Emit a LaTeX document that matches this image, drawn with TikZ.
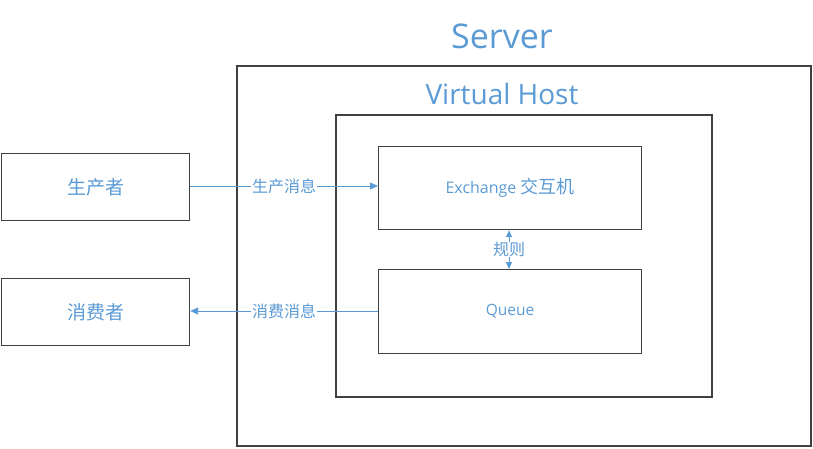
\documentclass[tikz,border=0pt]{standalone}
\usepackage{fontspec}
\setmainfont{Open Sans}
\newfontfamily\cjk{Noto Sans CJK SC}
\usetikzlibrary{arrows.meta}
\definecolor{tblue}{HTML}{5B9BD5}
\definecolor{frame}{HTML}{404040}
\begin{document}
\begin{tikzpicture}[x=1pt,y=-1pt,
  box/.style={draw=frame,line width=1.2pt},
  txt/.style={text=tblue,inner sep=0pt},
  conn/.style={draw=tblue,line width=0.8pt,-{Triangle[length=8pt,width=7pt]}},
  lbl/.style={fill=white,text=tblue,font=\cjk\fontsize{16}{16}\selectfont,inner sep=1pt}]
\useasboundingbox (0,0) rectangle (813,448);
\draw[box] (237,66) rectangle (811,446);
\draw[box] (336,115) rectangle (712,397);
\node[box,minimum width=188pt,minimum height=67pt,anchor=north west,inner sep=0pt] (prod) at (1,153) {};
\node[txt,font=\cjk\fontsize{19}{19}\selectfont] (prodtxt) at (prod.center) {生产者};
\node[box,minimum width=188pt,minimum height=67pt,anchor=north west,inner sep=0pt] (cons) at (1,278) {};
\node[txt,font=\cjk\fontsize{19}{19}\selectfont] (constxt) at (cons.center) {消费者};
\node[box,minimum width=263pt,minimum height=83pt,anchor=north west,inner sep=0pt] (ex) at (378,146) {};
\node[txt,font=\fontsize{16}{16}\selectfont] (extxt) at (ex.center) {Exchange {\cjk\fontsize{18}{18}\selectfont 交互机}};
\node[box,minimum width=263pt,minimum height=84pt,anchor=north west,inner sep=0pt] (q) at (378,269) {};
\node[txt,font=\fontsize{15.5}{15.5}\selectfont] (qtxt) at (q.center) {Queue};
\node[txt,font=\fontsize{34}{34}\selectfont] (server) at (502,36) {Server};
\node[txt,font=\fontsize{28}{28}\selectfont] (vh) at (502,94) {Virtual Host};
\draw[conn] (prod.east |- 0,186) -- node[lbl] {生产消息} (ex.west |- 0,186);
\draw[conn] (q.west |- 0,311) -- node[lbl] {消费消息} (cons.east |- 0,311);
\draw[draw=tblue,line width=0.8pt,{Triangle[length=7pt,width=6pt]}-{Triangle[length=7pt,width=6pt]}] (ex.south -| 509,0) -- node[lbl,inner sep=0.5pt] {规则} (q.north -| 509,0);
\end{tikzpicture}
\end{document}
